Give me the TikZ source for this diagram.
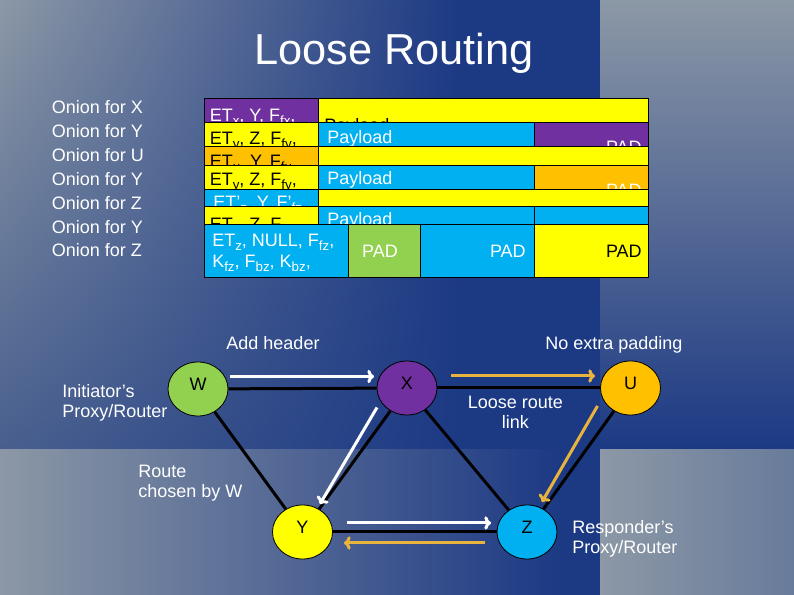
\documentclass[tikz,border=0pt]{standalone}
\usepackage{fontspec}
\setmainfont{Liberation Sans}
\usepackage{xcolor}
\usetikzlibrary{shapes.geometric,arrows.meta,shadings}

\definecolor{slideblue}{RGB}{28,57,132}
\definecolor{slidegray}{RGB}{140,152,166}
\definecolor{slidegrayblue}{RGB}{72,95,142}
\definecolor{slidesteel}{RGB}{104,123,155}
\definecolor{onionpurple}{RGB}{112,48,160}
\definecolor{onionyellow}{RGB}{255,255,0}
\definecolor{onioncyan}{RGB}{0,176,240}
\definecolor{onionorange}{RGB}{255,192,0}
\definecolor{oniongreen}{RGB}{146,208,80}
\definecolor{replygold}{RGB}{232,180,62}

\newcommand{\onsub}[1]{\raisebox{-0.22em}[0pt][0pt]{\fontsize{10}{10}\selectfont #1}}

\begin{document}
\begin{tikzpicture}[x=0.75pt,y=0.75pt,yscale=-1,xscale=1,
  every node/.style={text=white,inner sep=0.75pt},
  labeltxt/.style={font=\fontsize{13.5}{15}\selectfont},
  celltxt/.style={font=\fontsize{13.5}{15}\selectfont},
  hdrtxt/.style={font=\fontsize{13.5}{12}\selectfont},
  cell/.style={draw=black,line width=0.75pt},
  router/.style={ellipse,draw=black,line width=0.6pt,minimum width=45pt,minimum height=40.5pt,
    text=black,text depth=7.5pt,font=\fontsize{13.5}{15}\selectfont},
  link/.style={draw=black,line width=2.25pt},
  sendarrow/.style={draw=white,line width=2.25pt,-{To[length=5pt,width=10pt]}},
  replyarrow/.style={draw=replygold,line width=2.25pt,-{To[length=5pt,width=10pt]}}]
\useasboundingbox (0,0) rectangle (794,595);

%Shape: Rectangle (slide background)
\shade [upper left=slidegray, lower left=slidegrayblue, upper right=slideblue, lower right=slideblue] (0,0) rectangle (460,450);
\fill [slideblue] (459,0) rectangle (601,450);
\shade [top color=slidegray, bottom color=slideblue] (600,0) rectangle (794,450);
\shade [left color=slidegray, right color=slideblue] (0,450) rectangle (560,595);
\fill [slideblue] (559,450) rectangle (601,595);
\shade [left color=slidegray, right color=slidesteel] (600,450) rectangle (794,595);

% Text Node
\draw (394,65) node (title) [anchor=base, font=\fontsize{32.5}{39}\selectfont] {Loose Routing};

% Text Node
\draw (50.5,114) node (onX) [labeltxt, anchor=base west] {Onion for X};
% Text Node
\draw (50.5,137.8) node (onY) [labeltxt, anchor=base west] {Onion for Y};
% Text Node
\draw (50.5,161.7) node (onU) [labeltxt, anchor=base west] {Onion for U};
% Text Node
\draw (50.5,185.5) node (onYb) [labeltxt, anchor=base west] {Onion for Y};
% Text Node
\draw (50.5,209.3) node (onZ) [labeltxt, anchor=base west] {Onion for Z};
% Text Node
\draw (50.5,233.2) node (onYc) [labeltxt, anchor=base west] {Onion for Y};
% Text Node
\draw (50.5,257) node (onZb) [labeltxt, anchor=base west] {Onion for Z};

%Shape: Rectangle (onion for X)
\draw [cell, fill=onionpurple] (204,99) -- (318,99) -- (318,152) -- (204,152) -- cycle;
\draw [cell, fill=onionyellow] (318,99) -- (648,99) -- (648,152) -- (318,152) -- cycle;
\draw (208.5,121.5) node (hdrX) [hdrtxt, anchor=base west] {ET\onsub{x}, Y, F\onsub{fx},};
\draw (323,131.5) node (plX) [celltxt, anchor=base west, text=black] {Payload};

%Shape: Rectangle (onion for Y)
\draw [cell, fill=onionyellow] (204,123) -- (318,123) -- (318,176) -- (204,176) -- cycle;
\draw [cell, fill=onioncyan] (318,123) -- (534,123) -- (534,176) -- (318,176) -- cycle;
\draw [cell, fill=onionpurple] (534,123) -- (648,123) -- (648,176) -- (534,176) -- cycle;
\draw (208.5,145) node (hdrY) [hdrtxt, anchor=base west, text=black] {ET\onsub{y}, Z, F\onsub{fy},};
\draw (326,143.3) node (plY) [celltxt, anchor=base west] {Payload};
\draw (643,153.7) node (padY) [celltxt, anchor=base east] {PAD};

%Shape: Rectangle (onion for U)
\draw [cell, fill=onionorange] (204,147) -- (318,147) -- (318,200) -- (204,200) -- cycle;
\draw [cell, fill=onionyellow] (318,147) -- (648,147) -- (648,200) -- (318,200) -- cycle;
\draw (208.5,168) node (hdrU) [hdrtxt, anchor=base west, text=black] {ET\onsub{u}, Y, F\onsub{fu},};

%Shape: Rectangle (onion for Y, second)
\draw [cell, fill=onionyellow] (204,166) -- (318,166) -- (318,219) -- (204,219) -- cycle;
\draw [cell, fill=onioncyan] (318,166) -- (534,166) -- (534,219) -- (318,219) -- cycle;
\draw [cell, fill=onionorange] (534,166) -- (648,166) -- (648,219) -- (534,219) -- cycle;
\draw (208.5,186) node (hdrYb) [hdrtxt, anchor=base west, text=black] {ET\onsub{y}, Z, F\onsub{fy},};
\draw (326,185) node (plYb) [celltxt, anchor=base west] {Payload};
\draw (643,197) node (padYb) [celltxt, anchor=base east] {PAD};

%Shape: Rectangle (onion for Z)
\draw [cell, fill=onioncyan] (204,190) -- (318,190) -- (318,243) -- (204,243) -- cycle;
\draw [cell, fill=onionyellow] (318,190) -- (648,190) -- (648,243) -- (318,243) -- cycle;
\draw (212,208.5) node (hdrZ) [hdrtxt, anchor=base west] {ET’\onsub{z}, Y, F’\onsub{fz},};

%Shape: Rectangle (onion for Y, third)
\draw [cell, fill=onionyellow] (204,207) -- (318,207) -- (318,260) -- (204,260) -- cycle;
\draw [cell, fill=onioncyan] (318,207) -- (534,207) -- (534,260) -- (318,260) -- cycle;
\draw [cell, fill=onioncyan] (534,207) -- (648,207) -- (648,260) -- (534,260) -- cycle;
\draw (208.5,230.5) node (hdrYc) [hdrtxt, anchor=base west, text=black] {ET\onsub{y}, Z, F\onsub{fy},};
\draw (326,225.5) node (plYc) [celltxt, anchor=base west] {Payload};

%Shape: Rectangle (onion for Z, last)
\draw [cell, fill=onioncyan] (204,225) -- (348,225) -- (348,278) -- (204,278) -- cycle;
\draw [cell, fill=oniongreen] (348,225) -- (420,225) -- (420,278) -- (348,278) -- cycle;
\draw [cell, fill=onioncyan] (420,225) -- (534,225) -- (534,278) -- (420,278) -- cycle;
\draw [cell, fill=onionyellow] (534,225) -- (648,225) -- (648,278) -- (534,278) -- cycle;
\draw (211,233) node (hdrZb) [hdrtxt, anchor=north west, align=left] {ET\onsub{z}, NULL, F\onsub{fz},\\[3.5pt]K\onsub{fz}, F\onsub{bz}, K\onsub{bz},};
\draw (380,258) node (padZa) [celltxt, anchor=base] {PAD};
\draw (527,258) node (padZb) [celltxt, anchor=base east] {PAD};
\draw (643,258) node (padZc) [celltxt, anchor=base east, text=black] {PAD};

%Shape: Ellipse
\draw (198,389) node (W) [router, fill=oniongreen] {W};
\draw (407,388) node (X) [router, fill=onionpurple] {X};
\draw (630.5,388) node (U) [router, fill=onionorange] {U};
\draw (302.5,532) node (Y) [router, fill=onionyellow] {Y};
\draw (527,532) node (Z) [router, fill=onioncyan] {Z};

%Straight Lines
\draw [link] (W) -- (X);
\draw [link] (X) -- (U);
\draw [link] (W) -- (Y);
\draw [link] (X) -- (Y);
\draw [link] (X) -- (Z);
\draw [link] (U) -- (Z);
\draw [link] (Y) -- (Z);

%Straight Lines (message path)
\coordinate (wxS) at (230,376.5);
\coordinate (wxE) at (374,376.5);
\coordinate (xuS) at (451,376);
\coordinate (xuE) at (595,376);
\coordinate (xyS) at (377,407.5);
\coordinate (xyE) at (320,504);
\coordinate (uzS) at (597.5,406);
\coordinate (uzE) at (542,502);
\coordinate (yzS) at (347,523);
\coordinate (yzE) at (491,523);
\coordinate (zyS) at (485,543);
\coordinate (zyE) at (344,543);
\draw [sendarrow] (wxS) -- (wxE);
\draw [replyarrow] (xuS) -- (xuE);
\draw [sendarrow] (xyS) -- (xyE);
\draw [replyarrow] (uzS) -- (uzE);
\draw [sendarrow] (yzS) -- (yzE);
\draw [replyarrow] (zyS) -- (zyE);

% Text Node
\draw (273,350) node (addhdr) [labeltxt, anchor=base] {Add header};
% Text Node
\draw (614,350) node (nopad) [labeltxt, anchor=base] {No extra padding};
% Text Node
\draw (61,383) node (initr) [labeltxt, anchor=north west, align=left] {Initiator’s\\Proxy/Router};
% Text Node
\draw (515.5,394.5) node (loose) [labeltxt, anchor=north, align=center] {Loose route\\link};
% Text Node
\draw (137,463.5) node (chosen) [labeltxt, anchor=north west, align=left] {Route\\chosen by W};
% Text Node
\draw (571,519.5) node (respr) [labeltxt, anchor=north west, align=left] {Responder’s\\Proxy/Router};

\end{tikzpicture}
\end{document}
